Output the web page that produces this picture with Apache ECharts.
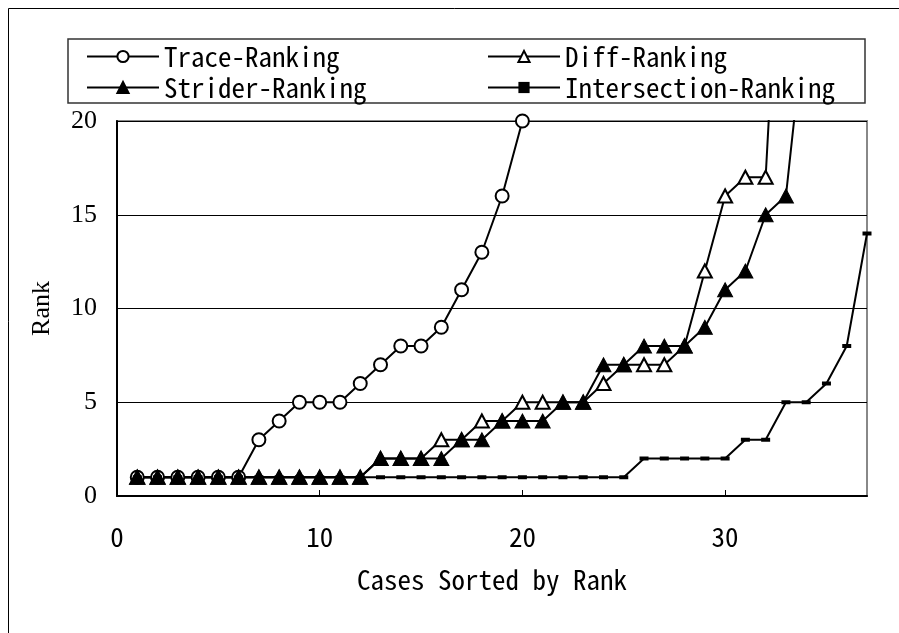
<!DOCTYPE html>
<html>
<head>
<meta charset="utf-8">
<script src="https://cdn.jsdelivr.net/npm/echarts@6/dist/echarts.min.js"></script>
<style>
  html,body {margin:0;padding:0;background:#fff;}
  #echart {width:899px;height:633px;}
</style>
</head>
<body>
<div id="echart"></div>
<script>
// rank of each case, case number = position in the list (1, 2, 3 ...)
var traceRank = [1,1,1,1,1,1,3,4,5,5,5,6,7,8,8,9,11,13,16,20];
var diffRank = [1,1,1,1,1,1,1,1,1,1,1,1,2,2,2,3,3,4,4,5,5,5,5,6,7,7,7,8,12,16,17,17,37];
var striderRank = [1,1,1,1,1,1,1,1,1,1,1,1,2,2,2,2,3,3,4,4,4,5,5,7,7,8,8,8,9,11,12,15,16,26];
var interRank = [1,1,1,1,1,1,1,1,1,1,1,1,1,1,1,1,1,1,1,1,1,1,1,1,1,2,2,2,2,2,3,3,5,5,6,8,14];
var xTicks = [0,10,20,30];
var yTicks = [0,5,10,15,20];

var monoFont = '"Noto Sans Mono CJK SC", "Liberation Mono", monospace';
var serifFont = '"Liberation Serif", "DejaVu Serif", serif';

function toPoints(arr){
  return arr.map(function(v,i){ return [i+1, v]; });
}

var myChart = echarts.init(document.getElementById('echart'));
var option = {
  animation: false,
  backgroundColor: '#fff',
  graphic: [
    {type:'rect', shape:{x:8.5,y:8.5,width:1000,height:1000}, style:{fill:'none',stroke:'#000',lineWidth:1}, z:0},
    {type:'rect', shape:{x:68,y:39,width:797,height:64}, style:{fill:'none',stroke:'#333',lineWidth:1.5}, z:0}
  ],
  grid: {
    left:117, right:32, top:121, bottom:137,
    show:true, borderColor:'#888', borderWidth:2, backgroundColor:'#fff'
  },
  legend: [
    {
      data:['Trace-Ranking','Strider-Ranking'],
      orient:'vertical', left:86, top:43, padding:0,
      itemWidth:72, itemHeight:14, itemGap:4, selectedMode:false,
      textStyle:{fontFamily:monoFont, fontSize:27, color:'#000'}
    },
    {
      data:['Diff-Ranking','Intersection-Ranking'],
      orient:'vertical', left:487, top:43, padding:0,
      itemWidth:72, itemHeight:14, itemGap:4, selectedMode:false,
      textStyle:{fontFamily:monoFont, fontSize:27, color:'#000'}
    }
  ],
  xAxis: {
    type:'value', min:0, max:37, interval:10,
    name:'Cases Sorted by Rank', nameLocation:'middle', nameGap:70,
    nameTextStyle:{fontFamily:monoFont, fontSize:27, color:'#000'},
    axisLine:{show:true, onZero:false, lineStyle:{color:'#000', width:2}},
    axisTick:{show:true, inside:true, length:6, lineStyle:{color:'#000'}},
    axisLabel:{
      margin:27, showMaxLabel:false, fontFamily:monoFont, fontSize:27, color:'#000',
      formatter:function(v){ return xTicks.indexOf(v)>=0 ? String(v) : ''; }
    },
    splitLine:{show:false}
  },
  yAxis: {
    type:'value', min:0, max:20, interval:5,
    name:'Rank', nameLocation:'middle', nameGap:62, nameRotate:90,
    nameTextStyle:{fontFamily:serifFont, fontSize:26, color:'#000'},
    axisLine:{show:true, lineStyle:{color:'#000', width:2}},
    axisTick:{show:false},
    axisLabel:{
      margin:20, fontFamily:serifFont, fontSize:26, color:'#000',
      formatter:function(v){ return yTicks.indexOf(v)>=0 ? String(v) : ''; }
    },
    splitLine:{show:true, lineStyle:{color:'#000', width:1}}
  },
  series: [
    {
      name:'Trace-Ranking', type:'line', data:toPoints(traceRank), clip:true,
      symbol:'circle', symbolSize:13,
      lineStyle:{color:'#000', width:2},
      itemStyle:{color:'#fff', borderColor:'#000', borderWidth:2}
    },
    {
      name:'Diff-Ranking', type:'line', data:toPoints(diffRank), clip:true,
      symbol:'triangle', symbolSize:[14,13],
      lineStyle:{color:'#000', width:2},
      itemStyle:{color:'#fff', borderColor:'#000', borderWidth:2}
    },
    {
      name:'Strider-Ranking', type:'line', data:toPoints(striderRank), clip:true,
      symbol:'triangle', symbolSize:[15,14],
      lineStyle:{color:'#000', width:2},
      itemStyle:{color:'#000', borderColor:'#000', borderWidth:1}
    },
    {
      name:'Intersection-Ranking', type:'line', data:toPoints(interRank), clip:true,
      symbol:'rect', symbolSize:[9,4],
      lineStyle:{color:'#000', width:2},
      itemStyle:{color:'#000', borderColor:'#000', borderWidth:0}
    }
  ]
};
myChart.setOption(option);
</script>
</body>
</html>
